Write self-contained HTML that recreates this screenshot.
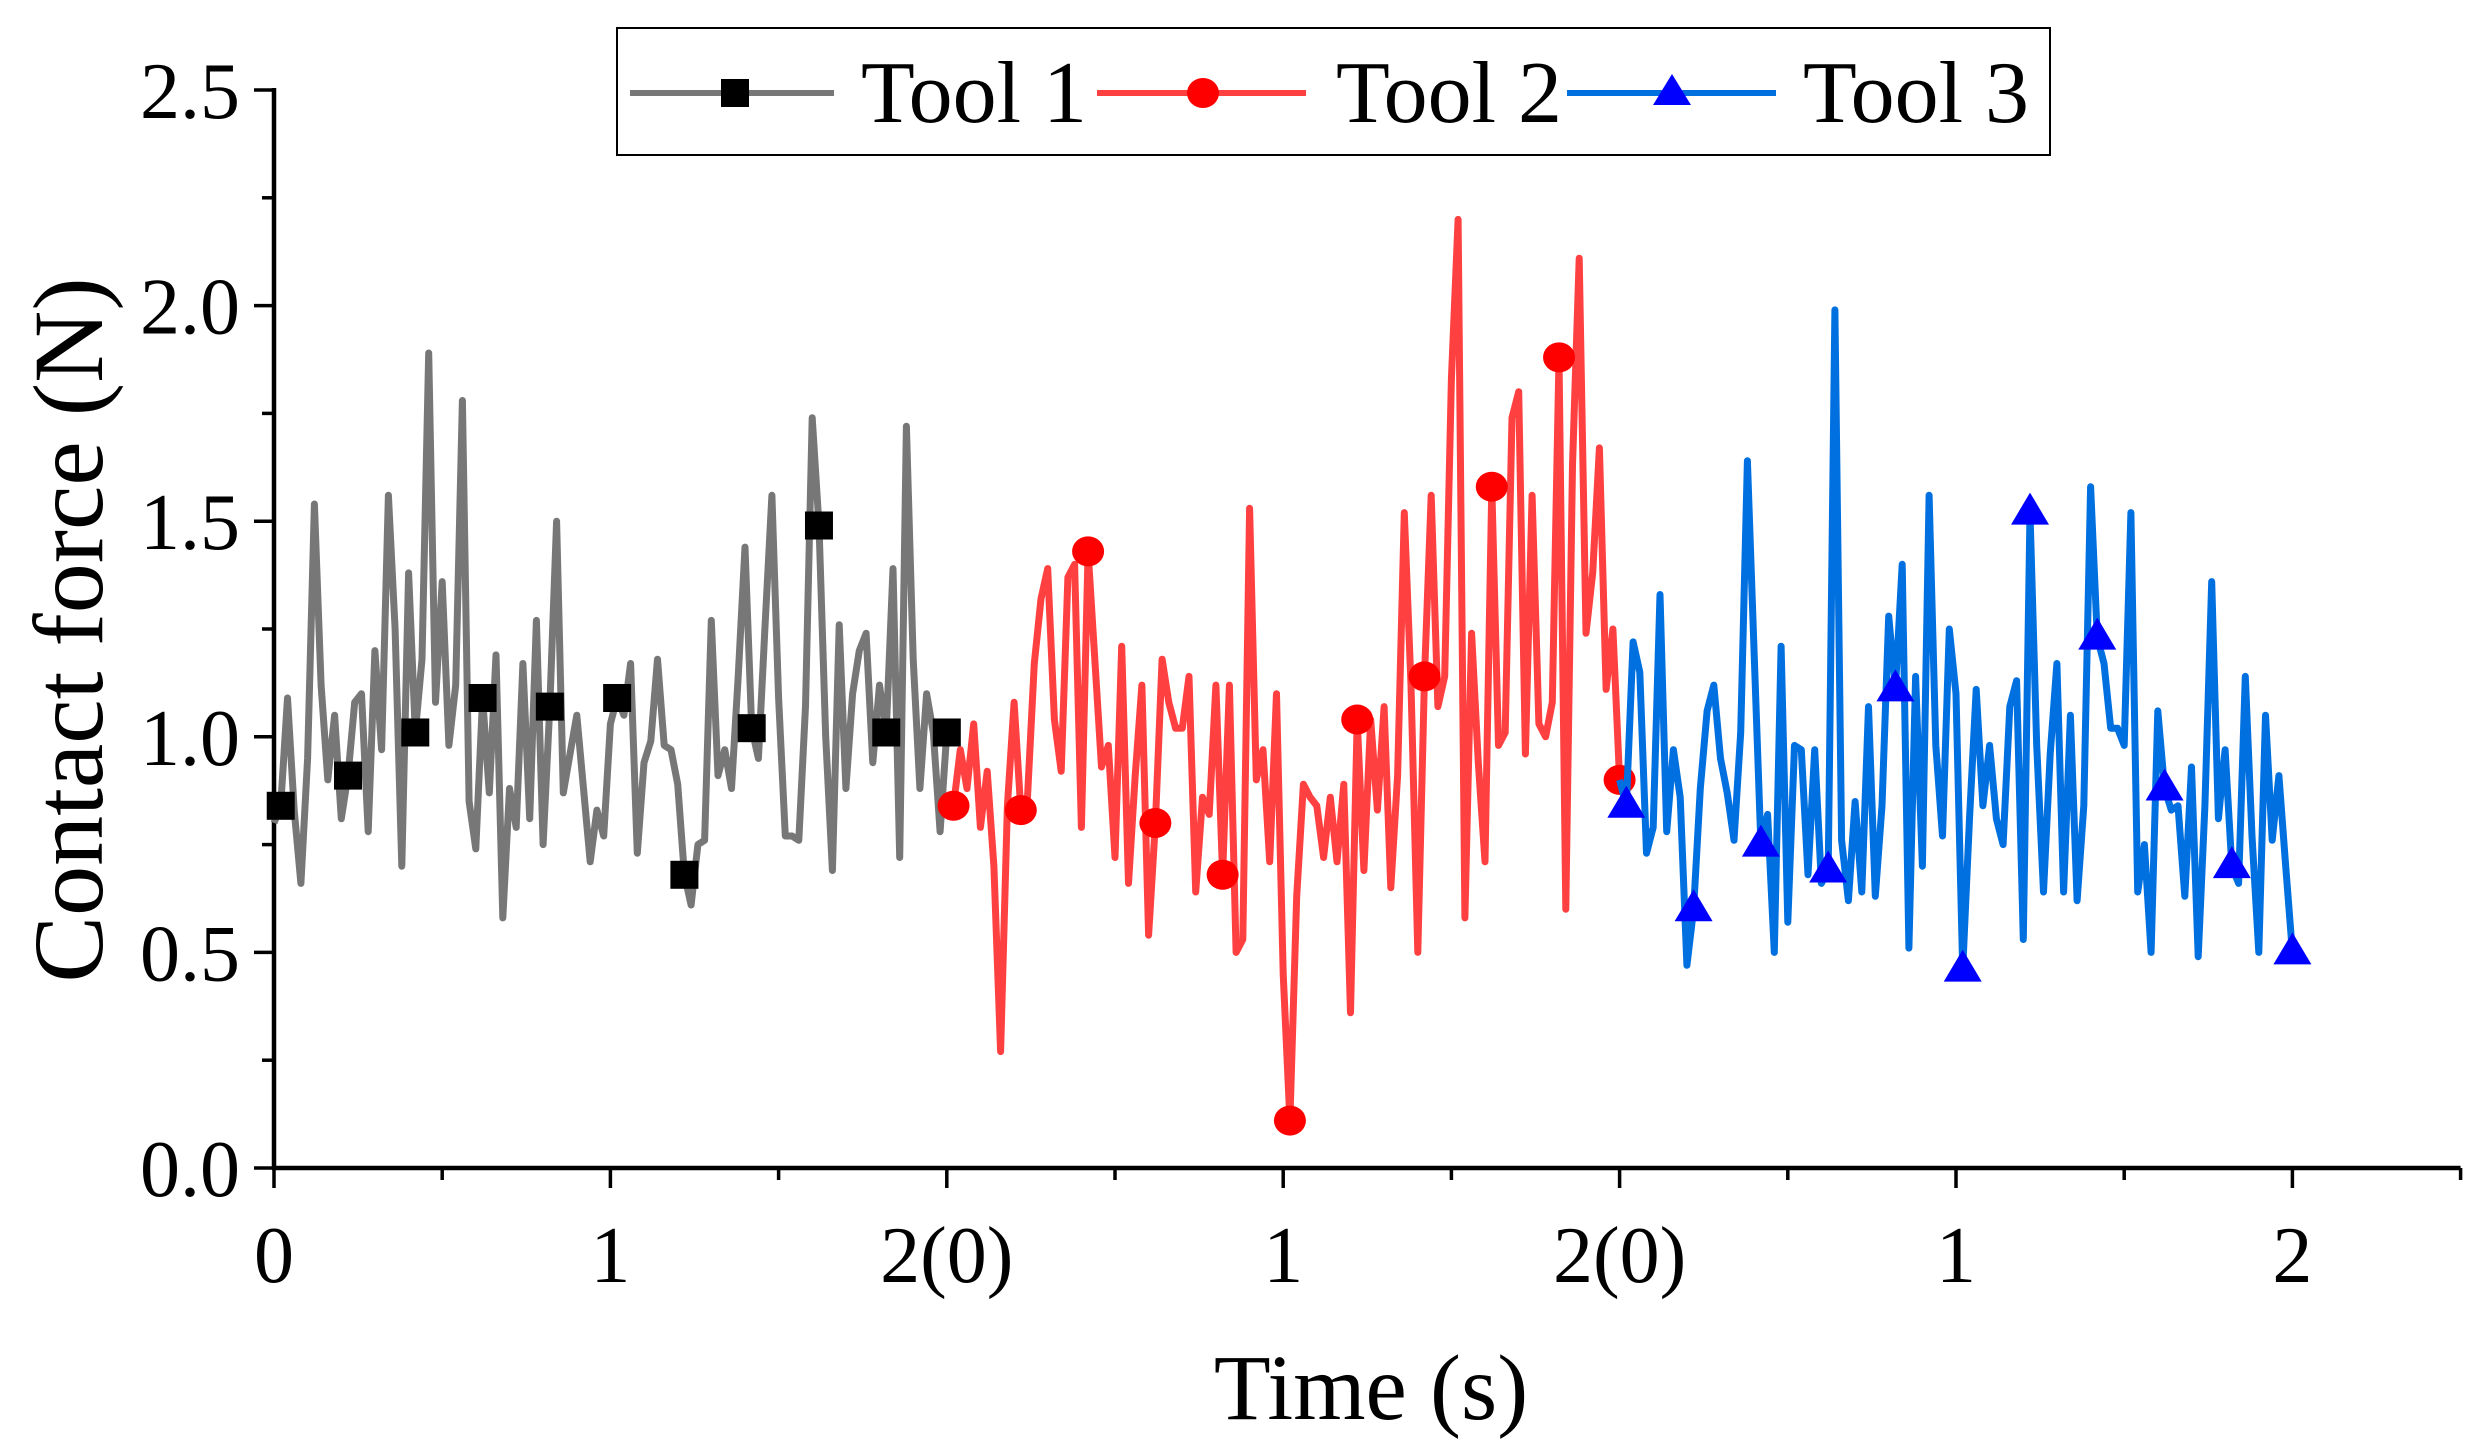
<!DOCTYPE html>
<html><head><meta charset="utf-8"><style>
html,body{margin:0;padding:0;background:#fff;}
svg{display:block;font-family:"Liberation Serif",serif;}
</style></head><body>
<svg id="chart" width="2482" height="1454" viewBox="0 0 2482 1454" xmlns="http://www.w3.org/2000/svg">
<rect x="0" y="0" width="2482" height="1454" fill="#fff"/>
<g id="axes"></g>
<g id="series"></g>
<text x="0" y="0" transform="translate(102,630) rotate(-90)" text-anchor="middle" font-size="100" fill="#000">Contact force (N)</text>
<text x="1371" y="1419" text-anchor="middle" font-size="93" fill="#000">Time (s)</text>
<g>
<rect x="617" y="28" width="1433" height="127" fill="#fff" stroke="#000" stroke-width="2"/>
<g>
<line x1="630" y1="93" x2="834" y2="93" stroke="#777" stroke-width="6"/>
<rect x="721" y="79" width="28" height="28" fill="#000"/>
<text x="861" y="122" font-size="88" fill="#000">Tool 1</text></g>
<g>
<line x1="1097" y1="93" x2="1306" y2="93" stroke="#FF4040" stroke-width="6"/>
<ellipse cx="1203" cy="93" rx="16" ry="15" fill="#FF0000"/>
<text x="1336" y="122" font-size="88" fill="#000">Tool 2</text></g>
<g>
<line x1="1567" y1="93" x2="1776" y2="93" stroke="#0070E0" stroke-width="6"/>
<polygon points="1672,74 1691,105 1653,105" fill="#0000FF"/>
<text x="1803" y="122" font-size="88" fill="#000">Tool 3</text></g>
</g>
</svg>
<script>
const xTickLabels = ["0","1","2(0)","1","2(0)","1","2"];
const yTickLabels = ["0.0","0.5","1.0","1.5","2.0","2.5"];
const tool1 = [0.80,0.84,1.09,0.83,0.66,0.95,1.54,1.12,0.90,1.05,
0.81,0.91,1.08,1.10,0.78,1.20,0.97,1.56,1.25,0.70,
1.38,1.01,1.18,1.89,1.08,1.36,0.98,1.12,1.78,0.85,
0.74,1.09,0.87,1.19,0.58,0.88,0.79,1.17,0.81,1.27,
0.75,1.07,1.50,0.87,0.96,1.05,0.88,0.71,0.83,0.77,
1.03,1.09,1.05,1.17,0.73,0.94,0.99,1.18,0.98,0.97,
0.89,0.68,0.61,0.75,0.76,1.27,0.91,0.97,0.88,1.14,
1.44,1.02,0.95,1.26,1.56,1.09,0.77,0.77,0.76,1.07,
1.74,1.49,1.00,0.69,1.26,0.88,1.10,1.20,1.24,0.94,
1.12,1.01,1.39,0.72,1.72,1.18,0.88,1.10,1.01,0.78,
1.01];
const tool2 = [0.84,0.84,0.97,0.88,1.03,0.79,0.92,0.70,0.27,0.84,
1.08,0.83,0.86,1.17,1.32,1.39,1.04,0.92,1.37,1.40,
0.79,1.43,1.18,0.93,0.98,0.72,1.21,0.66,0.91,1.12,
0.54,0.80,1.18,1.08,1.02,1.02,1.14,0.64,0.86,0.82,
1.12,0.68,1.12,0.50,0.53,1.53,0.90,0.97,0.71,1.10,
0.45,0.11,0.63,0.89,0.86,0.84,0.72,0.86,0.71,0.89,
0.36,1.04,0.69,1.04,0.83,1.07,0.65,0.91,1.52,1.12,
0.50,1.14,1.56,1.07,1.14,1.83,2.20,0.58,1.24,0.94,
0.71,1.58,0.98,1.01,1.74,1.80,0.96,1.56,1.03,1.00,
1.08,1.88,0.60,1.63,2.11,1.24,1.38,1.67,1.11,1.25,
0.90];
const tool3 = [0.90,0.84,1.22,1.15,0.73,0.79,1.33,0.78,0.97,0.86,
0.47,0.60,0.88,1.06,1.12,0.95,0.87,0.76,1.01,1.64,
1.19,0.75,0.82,0.50,1.21,0.57,0.98,0.97,0.68,0.97,
0.66,0.69,1.99,0.76,0.62,0.85,0.64,1.07,0.63,0.84,
1.28,1.11,1.40,0.51,1.14,0.70,1.56,0.98,0.77,1.25,
1.10,0.46,0.81,1.11,0.84,0.98,0.81,0.75,1.07,1.13,
0.53,1.52,0.98,0.64,0.96,1.17,0.64,1.05,0.62,0.84,
1.58,1.23,1.17,1.02,1.02,0.98,1.52,0.64,0.75,0.50,
1.06,0.88,0.83,0.84,0.63,0.93,0.49,0.84,1.36,0.81,
0.97,0.70,0.66,1.14,0.77,0.50,1.05,0.76,0.91,0.70,
0.50];
const markerIdx = [1,11,21,31,41,51,61,71,81,91,100];
const dt = 0.02;

const NS="http://www.w3.org/2000/svg";
const X0=274, UNIT=336.4, Y0=1168, YU=431.2, XMAX=6.5;
function xs(t){return X0+t*UNIT;}
function ys(v){return Y0-v*YU;}
function mk(tag,attrs,parent){const e=document.createElementNS(NS,tag);for(const k in attrs)e.setAttribute(k,attrs[k]);parent.appendChild(e);return e;}
const axes=document.getElementById('axes');
const series=document.getElementById('series');

let ax=mk('line',{x1:X0-2,y1:Y0,x2:xs(XMAX),y2:Y0,stroke:'#000','stroke-width':4.5},axes);


let ay=mk('line',{x1:X0,y1:Y0+2,x2:X0,y2:ys(2.5)-2,stroke:'#000','stroke-width':4.5},axes);



for(let k=0;k<=13;k++){
  const t=k*0.5, major=(k%2===0);
  const tk=mk('line',{x1:xs(t),y1:Y0,x2:xs(t),y2:Y0+(major?20:12),stroke:'#000','stroke-width':3.5},axes);
  
  
}
xTickLabels.forEach((s,i)=>{
  const tx=mk('text',{x:xs(i),y:1282,'text-anchor':'middle','font-size':80,fill:'#000'},axes);
  tx.textContent=s;
  
  
});
for(let k=0;k<=10;k++){
  const v=k*0.25, major=(k%2===0);
  const tk=mk('line',{x1:X0,y1:ys(v),x2:X0-(major?20:12),y2:ys(v),stroke:'#000','stroke-width':3.5},axes);
  
  
}
yTickLabels.forEach((s,i)=>{
  const tx=mk('text',{x:240,y:ys(i*0.5)+28,'text-anchor':'end','font-size':80,fill:'#000'},axes);
  tx.textContent=s;
  
  
});

function drawSeries(vals,offset,color,mcolor,shape,name){
  const g=mk('g',{},series);
  
  
  const pts=vals.map((v,i)=>xs(offset+i*dt).toFixed(1)+','+ys(v).toFixed(1)).join(' ');
  const pl=mk('polyline',{points:pts,fill:'none',stroke:color,'stroke-width':7,'stroke-linejoin':'round'},g);
  
  
  markerIdx.forEach(i=>{
    const cx=xs(offset+i*dt), cy=ys(vals[i]);
    let m;
    if(shape==='square') m=mk('rect',{x:cx-14,y:cy-14,width:28,height:28,fill:mcolor},g);
    else if(shape==='circle') m=mk('ellipse',{cx:cx,cy:cy,rx:16,ry:15,fill:mcolor},g);
    else m=mk('polygon',{points:`${cx},${cy-20} ${cx+19},${cy+12} ${cx-19},${cy+12}`,fill:mcolor},g);
    
    
  });
}
drawSeries(tool1,0,'#777777','#000000','square','tool-1');
drawSeries(tool2,2,'#FF4040','#FF0000','circle','tool-2');
drawSeries(tool3,4,'#0070E0','#0000FF','triangle','tool-3');
</script>
</body></html>
